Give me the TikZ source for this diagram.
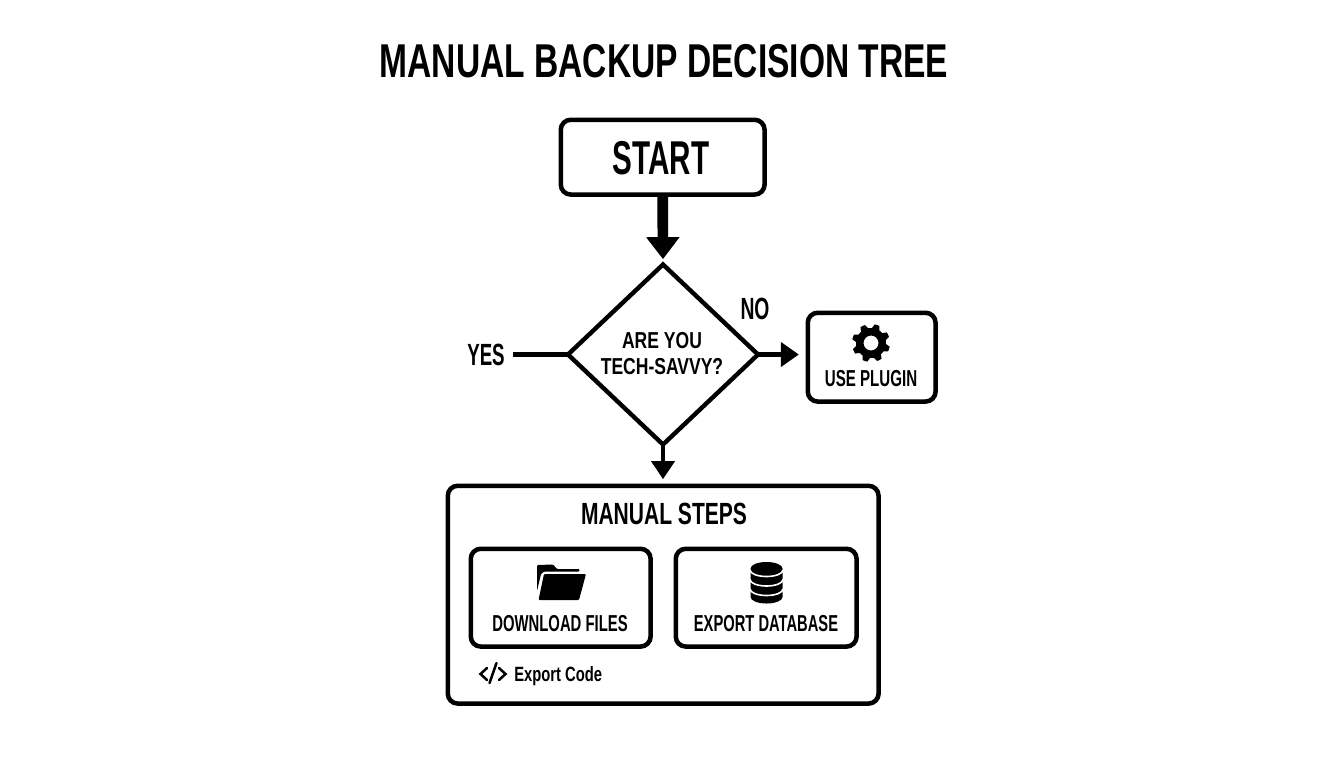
\documentclass[tikz,border=0pt]{standalone}
\usepackage{graphicx}
\usepackage{fontspec}
\setmainfont{Liberation Sans}
\newcommand{\sxb}[2]{\scalebox{#1}[1]{#2}}
\usetikzlibrary{shapes.geometric,arrows.meta}
\tikzset{
  x=0.75pt,y=-0.75pt,
  box/.style={draw=black,rounded corners=7.5pt,line cap=round,fill=white,inner sep=0pt,anchor=north west},
  strong/.style={line width=3.4pt},
  label/.style={inner sep=0pt,font=\bfseries,align=center,text=black},
  txtA/.style={label,font=\fontsize{35.6}{38}\selectfont\bfseries},
  txtB/.style={label,font=\fontsize{23}{26}\selectfont\bfseries},
  txtC/.style={label,font=\fontsize{17.3}{19.5}\selectfont\bfseries},
  conn/.style={draw=black,line width=3.2pt},
}
\begin{document}
\begin{tikzpicture}
\useasboundingbox (0,0) rectangle (1344,768);
\fill[white] (0,0) rectangle (1344,768);
\node[txtA] (title) at (664,61) {\sxb{0.707}{MANUAL BACKUP DECISION TREE}};
\node[box,strong,minimum width=155.25pt-2.4pt,minimum height=58.5pt-2.4pt] (start) at (558.5,117.5) {};
\node[txtA] (starttxt) at (661,158) {\sxb{0.624}{START}};
\node[draw=black,diamond,line width=3.3pt,inner sep=0pt,outer sep=0pt,minimum width=142.5pt,minimum height=135pt,fill=white,line join=miter] (dec) at (663,354.5) {};
\node[txtC] (dectxt) at (662,353.5) {\sxb{0.76}{ARE YOU}\\\sxb{0.76}{TECH-SAVVY?}};
\draw[line width=8pt,-{Triangle[length=16.5pt,width=24pt,sep=0pt]},shorten >=4pt] (start.south) -- (dec.north);
\node[txtB] (yes) at (486,355) {\sxb{0.61}{YES}};
\node[txtB] (no) at (755,309) {\sxb{0.63}{NO}};
\coordinate (yesend) at (513,354.5);
\draw[conn] (yesend) -- (dec.west);
\node[box,strong,minimum width=98.25pt-2.4pt,minimum height=69pt-2.4pt] (plugin) at (805.5,310.5) {};
\draw[conn,-{Triangle[length=13.5pt,width=18pt,sep=0pt]},shorten >=5pt] (dec.east) -- (plugin.west |- dec.east);
\node[txtC] (plugintxt) at (871,378.5) {\sxb{0.655}{USE PLUGIN}};
% gear
\fill[black,even odd rule]
  (871,343) circle[radius=7.5]
  plot[samples at={0,...,47}] ({871+(mod(\x,6)<3 ? 19 : 15)*cos(\x*7.5+11.25)},{343+(mod(\x,6)<3 ? 19 : 15)*sin(\x*7.5+11.25)}) -- cycle;
\node[box,strong,minimum width=325.5pt-2.4pt,minimum height=165.75pt-2.4pt] (manual) at (445.5,483.5) {};
\draw[conn,-{Triangle[length=13.5pt,width=17pt,sep=0pt]},shorten >=3.2pt] (dec.south) -- (dec.south |- manual.north);
\node[txtB] (manualtxt) at (664,514) {\sxb{0.686}{MANUAL STEPS}};
\node[box,strong,minimum width=137.25pt-2.4pt,minimum height=75.75pt-2.4pt] (dl) at (468.5,546.5) {};
\node[box,strong,minimum width=138pt-2.4pt,minimum height=75.75pt-2.4pt] (db) at (673.5,546.5) {};
\node[txtC] (dltxt) at (560,623.5) {\sxb{0.644}{DOWNLOAD FILES}};
\node[txtC] (dbtxt) at (766,623.5) {\sxb{0.638}{EXPORT DATABASE}};
% folder
\fill[black,rounded corners=0.8pt] (537,591) -- (537,565) -- (553,564.5) -- (557,569) -- (579.5,569) -- (579.5,571.5) -- (544,571.5) -- (541,574) -- cycle;
\fill[black,rounded corners=0.8pt] (544,574) -- (586,574) -- (579,600) -- (538.5,600) -- cycle;
% database
\fill[black] (750.5,568.5) arc[start angle=180,end angle=360,x radius=16,y radius=6.5] -- (782.5,597) arc[start angle=0,end angle=180,x radius=16,y radius=6.5] -- cycle;
\foreach \yy in {570,579.5,589}
  \draw[white,line width=1.2pt] (750,\yy) arc[start angle=180,end angle=0,x radius=16.5,y radius=6.5];
% code icon
\draw[line width=1.9pt,line cap=round,line join=miter] (487,668) -- (480.5,674) -- (487,680);
\draw[line width=1.9pt,line cap=round,line join=miter] (499,668) -- (505.5,674) -- (499,680);
\draw[line width=1.9pt,line cap=round] (496.5,663) -- (489.5,683);
\node[label,font=\fontsize{15.5}{18}\selectfont\bfseries,anchor=west] (codetxt) at (514,675.8) {\sxb{0.715}{Export Code}};
\end{tikzpicture}
\end{document}
